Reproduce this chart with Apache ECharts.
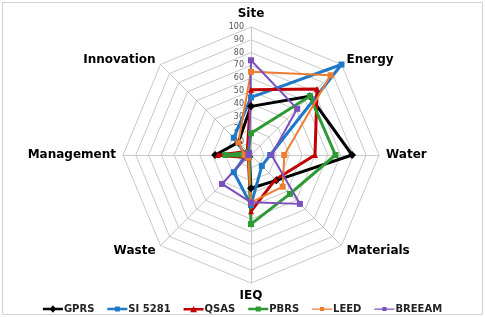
<!doctype html>
<html>
    <head>
        <meta charset="utf-8">
        <style>
            html, body { margin: 0; padding: 0; background: #fff; }
            #main { width: 485px; height: 317px; }
        </style>
    </head>
    <body>
        <div id="main"></div>
        <script src="https://cdn.jsdelivr.net/npm/echarts@6/dist/echarts.min.js"></script>
        <script>
            var indicators = ['Site', 'Energy', 'Water', 'Materials', 'IEQ', 'Waste', 'Management', 'Innovation'];
            var seriesNames = ['GPRS', 'SI 5281', 'QSAS', 'PBRS', 'LEED', 'BREEAM'];
            var gprs = [38, 65, 79, 28, 26, 2, 28, 14];
            var si5281 = [45, 100, 15, 12, 39, 19, 4, 19];
            var qsas = [51, 73, 50, 27, 44, 3, 26, 4];
            var pbrs = [17, 65, 66, 43, 54, 2, 20, 3];
            var leed = [65, 88, 26, 35, 37, 3, 5, 14];
            var breeam = [74, 51, 16, 54, 37, 32, 2, 2];

            var values = [gprs, si5281, qsas, pbrs, leed, breeam];
            var colors = ['#000000', '#1f78c8', '#c00000', '#2f9a35', '#ed7d31', '#7a50bd'];
            var symbols = ['diamond', 'rect', 'triangle', 'rect', 'rect', 'rect'];
            var widths = [3, 3, 3, 3, 2, 2];

            // echarts radar runs counter-clockwise, excel clockwise: keep first, reverse the rest
            function clockwise(arr) {
                return [arr[0]].concat(arr.slice(1).reverse());
            }

            // legend icons: line with the marker in the middle
            var lineBar = 'M0,3 L24,3 L24,6 L0,6 Z ';
            var thinBar = 'M0,4 L24,4 L24,5.5 L0,5.5 Z ';
            var legendIcons = {
                diamond: 'path://' + lineBar + 'M12,0 L16,4.5 L12,9 L8,4.5 Z',
                rect: 'path://' + lineBar + 'M9,1.5 L15,1.5 L15,7.5 L9,7.5 Z',
                triangle: 'path://' + lineBar + 'M12,0.5 L16,8 L8,8 Z',
                thin: 'path://' + thinBar + 'M9.5,2 L14.5,2 L14.5,7 L9.5,7 Z'
            };

            var chart = echarts.init(document.getElementById('main'));

            chart.setOption({
                animation: false,
                color: colors,
                graphic: [{
                    type: 'rect',
                    shape: { x: 2.5, y: 2.5, width: 480, height: 312 },
                    style: { fill: 'none', stroke: '#d0d0d0', lineWidth: 1 },
                    silent: true
                }],
                legend: {
                    data: seriesNames.map(function (n, i) {
                        var icon = widths[i] < 3 ? legendIcons.thin : legendIcons[symbols[i]];
                        return { name: n, icon: icon };
                    }),
                    top: 299,
                    left: 'center',
                    itemWidth: 20,
                    itemHeight: 8,
                    itemGap: 13,
                    textStyle: {
                        fontFamily: 'DejaVu Sans',
                        fontWeight: 'bold',
                        fontSize: 10,
                        color: '#222',
                        padding: [0, 0, 0, -4]
                    }
                },
                radar: {
                    center: [251, 155],
                    radius: 128,
                    startAngle: 90,
                    shape: 'polygon',
                    splitNumber: 10,
                    axisName: {
                        color: '#000',
                        fontFamily: 'DejaVu Sans',
                        fontWeight: 'bold',
                        fontSize: 12
                    },
                    nameGap: 7,
                    axisLine: { lineStyle: { color: '#c8c8c8', width: 1 } },
                    splitLine: { lineStyle: { color: '#c8c8c8', width: 1 } },
                    splitArea: { show: false },
                    axisLabel: { show: false },
                    indicator: clockwise(indicators).map(function (name, i) {
                        var ind = { name: name, min: 0, max: 100 };
                        if (i === 0) {
                            ind.axisLabel = {
                                show: true,
                                fontSize: 8,
                                color: '#555',
                                margin: 7,
                                align: 'right',
                                showMinLabel: false,
                                fontFamily: 'DejaVu Sans'
                            };
                        }
                        return ind;
                    })
                },
                series: [{
                    type: 'radar',
                    data: values.map(function (v, i) {
                        return {
                            name: seriesNames[i],
                            value: clockwise(v),
                            symbol: symbols[i],
                            symbolSize: symbols[i] === 'diamond' ? 8 : 6,
                            lineStyle: { color: colors[i], width: widths[i] },
                            itemStyle: { color: colors[i] }
                        };
                    })
                }]
            });

            window.onresize = chart.resize;
        </script>
    </body>
</html>
